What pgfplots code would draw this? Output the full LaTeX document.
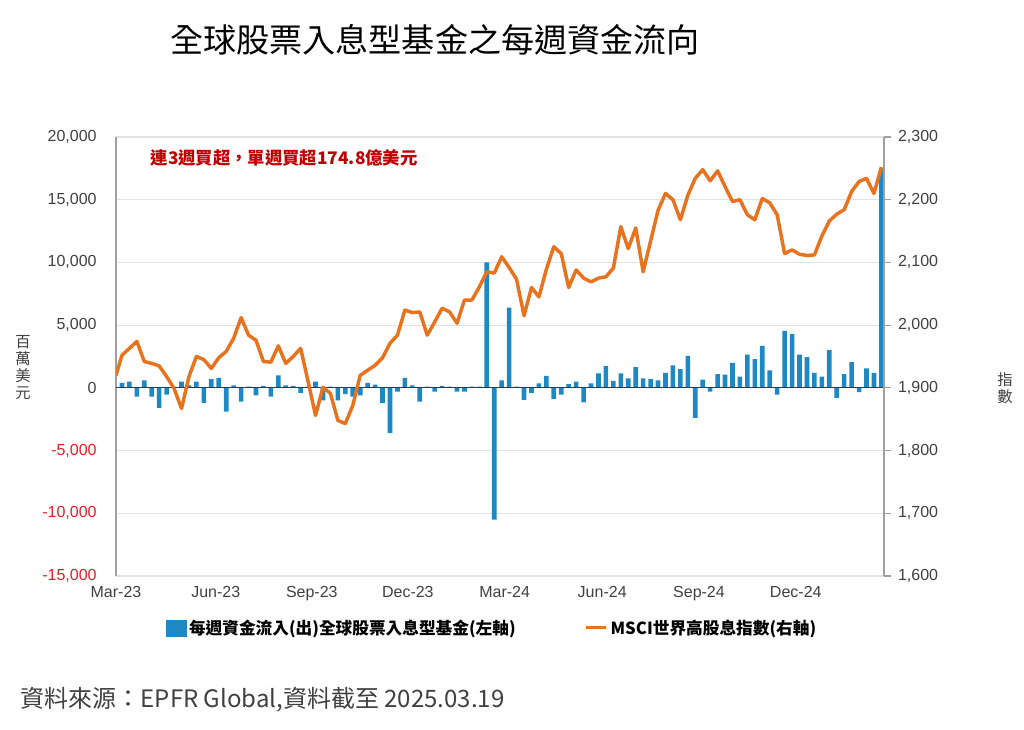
\documentclass[border=0pt]{standalone}
\usepackage{pgfplots}
\pgfplotsset{compat=1.18}
\usepackage{fontspec}
\setmainfont{Liberation Sans}
\newfontfamily\cjk{Noto Sans CJK TC}
\definecolor{barblue}{RGB}{30,136,196}
\definecolor{lineorange}{RGB}{232,114,30}
\definecolor{negred}{RGB}{224,32,40}
\definecolor{annred}{RGB}{192,0,0}
\definecolor{txtgray}{RGB}{64,64,64}
\definecolor{gridgray}{RGB}{226,226,226}
\definecolor{axgray}{RGB}{160,160,160}
\definecolor{zeronavy}{RGB}{40,60,90}
\begin{document}
\begin{tikzpicture}[x=0.75pt,y=0.75pt]
\path[use as bounding box] (0,0) rectangle (1024,730);
\node[font=\cjk\fontsize{24.8pt}{28pt}\selectfont, text=black] at (435,690) {全球股票入息型基金之每週資金流向};

\begin{axis}[
  at={(87pt,115.5pt)}, anchor=south west, scale only axis,
  width=576pt, height=329.25pt,
  xmin=-0.8, xmax=102.35, ymin=-15000, ymax=20000,
  scaled y ticks=false,
  axis y line*=left, axis x line*=bottom,
  y axis line style={draw=axgray, line width=0.8pt},
  x axis line style={draw=gridgray, line width=0.8pt},
  ytick={-15000,-10000,-5000,0,5000,10000,15000,20000},
  yticklabels={{\color{negred}-15,000},{\color{negred}-10,000},{\color{negred}-5,000},0,{5,000},{10,000},{15,000},{20,000}},
  major tick length=0pt,
  ymajorgrids, major grid style={draw=gridgray, line width=0.8pt},
  xtick={-0.8,12.6,25.5,38.4,51.4,64.5,77.5,90.5},
  xticklabels={Mar-23,Jun-23,Sep-23,Dec-23,Mar-24,Jun-24,Sep-24,Dec-24},
  tick label style={font=\fontsize{12pt}{14pt}\selectfont, text=txtgray},
  yticklabel style={xshift=-11pt},
  xticklabel style={yshift=-4pt},
]
\addplot[ybar, bar width=0.62, fill=barblue, draw=none] coordinates {
(0,400)(1,500)(2,-700)(3,600)(4,-700)(5,-1600)(6,-550)(7,100)(8,500)(9,200)
(10,500)(11,-1200)(12,700)(13,800)(14,-1900)(15,200)(16,-1100)(17,100)(18,-600)(19,150)
(20,-700)(21,1000)(22,200)(23,150)(24,-400)(25,100)(26,500)(27,-1000)(28,100)(29,-1000)
(30,-500)(31,-700)(32,-600)(33,400)(34,250)(35,-1200)(36,-3600)(37,-300)(38,800)(39,200)
(40,-1100)(41,100)(42,-300)(43,150)(44,100)(45,-300)(46,-300)(47,100)(48,100)(49,10000)
(50,-10500)(51,600)(52,6400)(53,100)(54,-950)(55,-400)(56,350)(57,950)(58,-900)(59,-550)
(60,300)(61,500)(62,-1150)(63,350)(64,1150)(65,1750)(66,550)(67,1150)(68,750)(69,1650)
(70,750)(71,700)(72,600)(73,1200)(74,1800)(75,1500)(76,2550)(77,-2400)(78,650)(79,-300)
(80,1100)(81,1050)(82,2000)(83,900)(84,2650)(85,2300)(86,3350)(87,1400)(88,-550)(89,4550)
(90,4300)(91,2650)(92,2450)(93,1200)(94,900)(95,3000)(96,-800)(97,1100)(98,2050)(99,-350)
(100,1550)(101,1200)(102,17480)
};
\draw[zeronavy, line width=0.8pt] (axis cs:-0.8,0) -- (axis cs:102.35,0);
\end{axis}

\begin{axis}[
  at={(87pt,115.5pt)}, anchor=south west, scale only axis,
  width=576pt, height=329.25pt,
  xmin=-0.8, xmax=102.35, ymin=1600, ymax=2300,
  axis y line*=right, axis x line=none,
  y axis line style={draw=axgray, line width=0.8pt},
  ytick={1600,1700,1800,1900,2000,2100,2200,2300},
  yticklabels={{1,600},{1,700},{1,800},{1,900},{2,000},{2,100},{2,200},{2,300}},
  ytick style={draw=axgray, line width=0.8pt},
  tick align=outside, major tick length=5pt,
  yticklabel style={font=\fontsize{12pt}{14pt}\selectfont, text=txtgray, xshift=2pt},
  legend style={at={(0.49,-0.118)}, anchor=center, draw=none, fill=none,
    legend columns=2, font=\cjk\bfseries\fontsize{12.5pt}{14pt}\selectfont, text=black,
    /tikz/every even column/.append style={column sep=50pt}},
]
\addlegendimage{legend image code/.code={\fill[barblue] (0pt,-6pt) rectangle (15pt,6pt);}}
\addlegendentry{每週資金流入(出)全球股票入息型基金(左軸)}
\addplot[lineorange, line width=2.6pt, line join=round, no marks,
  legend image code/.code={\draw[lineorange,line width=2.2pt] (0pt,0pt)--(15pt,0pt);}] coordinates {
(-0.8,1920)(0,1952)(1,1963)(2,1974)(3,1942)(4,1939)(5,1935)(6,1918)(7,1899)(8,1867)(9,1918)
(10,1950)(11,1945)(12,1931)(13,1948)(14,1958)(15,1979)(16,2012)(17,1984)(18,1976)(19,1942)
(20,1941)(21,1967)(22,1939)(23,1950)(24,1963)(25,1910)(26,1856)(27,1901)(28,1891)(29,1848)
(30,1843)(31,1872)(32,1920)(33,1928)(34,1936)(35,1948)(36,1971)(37,1984)(38,2024)(39,2020)
(40,2021)(41,1984)(42,2005)(43,2027)(44,2021)(45,2003)(46,2040)(47,2040)(48,2061)(49,2085)
(50,2083)(51,2109)(52,2092)(53,2073)(54,2015)(55,2060)(56,2045)(57,2089)(58,2125)(59,2114)
(60,2060)(61,2088)(62,2075)(63,2069)(64,2075)(65,2077)(66,2091)(67,2157)(68,2122)(69,2155)
(70,2085)(71,2134)(72,2183)(73,2210)(74,2200)(75,2168)(76,2207)(77,2234)(78,2248)(79,2230)
(80,2246)(81,2221)(82,2197)(83,2200)(84,2176)(85,2168)(86,2202)(87,2195)(88,2176)(89,2114)
(90,2120)(91,2113)(92,2111)(93,2112)(94,2142)(95,2166)(96,2177)(97,2184)(98,2213)(99,2229)
(100,2234)(101,2210)(102,2252)
};
\addlegendentry{MSCI世界高股息指數(右軸)}
\end{axis}

\node[font=\cjk\bfseries\fontsize{13pt}{15pt}\selectfont, text=annred, anchor=west] at (146,572) {連3週買超，單週買超174.8億美元};
\node[font=\cjk\fontsize{11.5pt}{12.75pt}\selectfont, text=txtgray, align=center] at (23,362.5) {百\\萬\\美\\元};
\node[font=\cjk\fontsize{11.5pt}{12.75pt}\selectfont, text=txtgray, align=center] at (1005,342) {指\\數};
\node[font=\cjk\fontsize{18pt}{21pt}\selectfont, text=txtgray, anchor=west] at (16,30) {資料來源：EPFR Global,資料截至 2025.03.19};
\end{tikzpicture}
\end{document}
